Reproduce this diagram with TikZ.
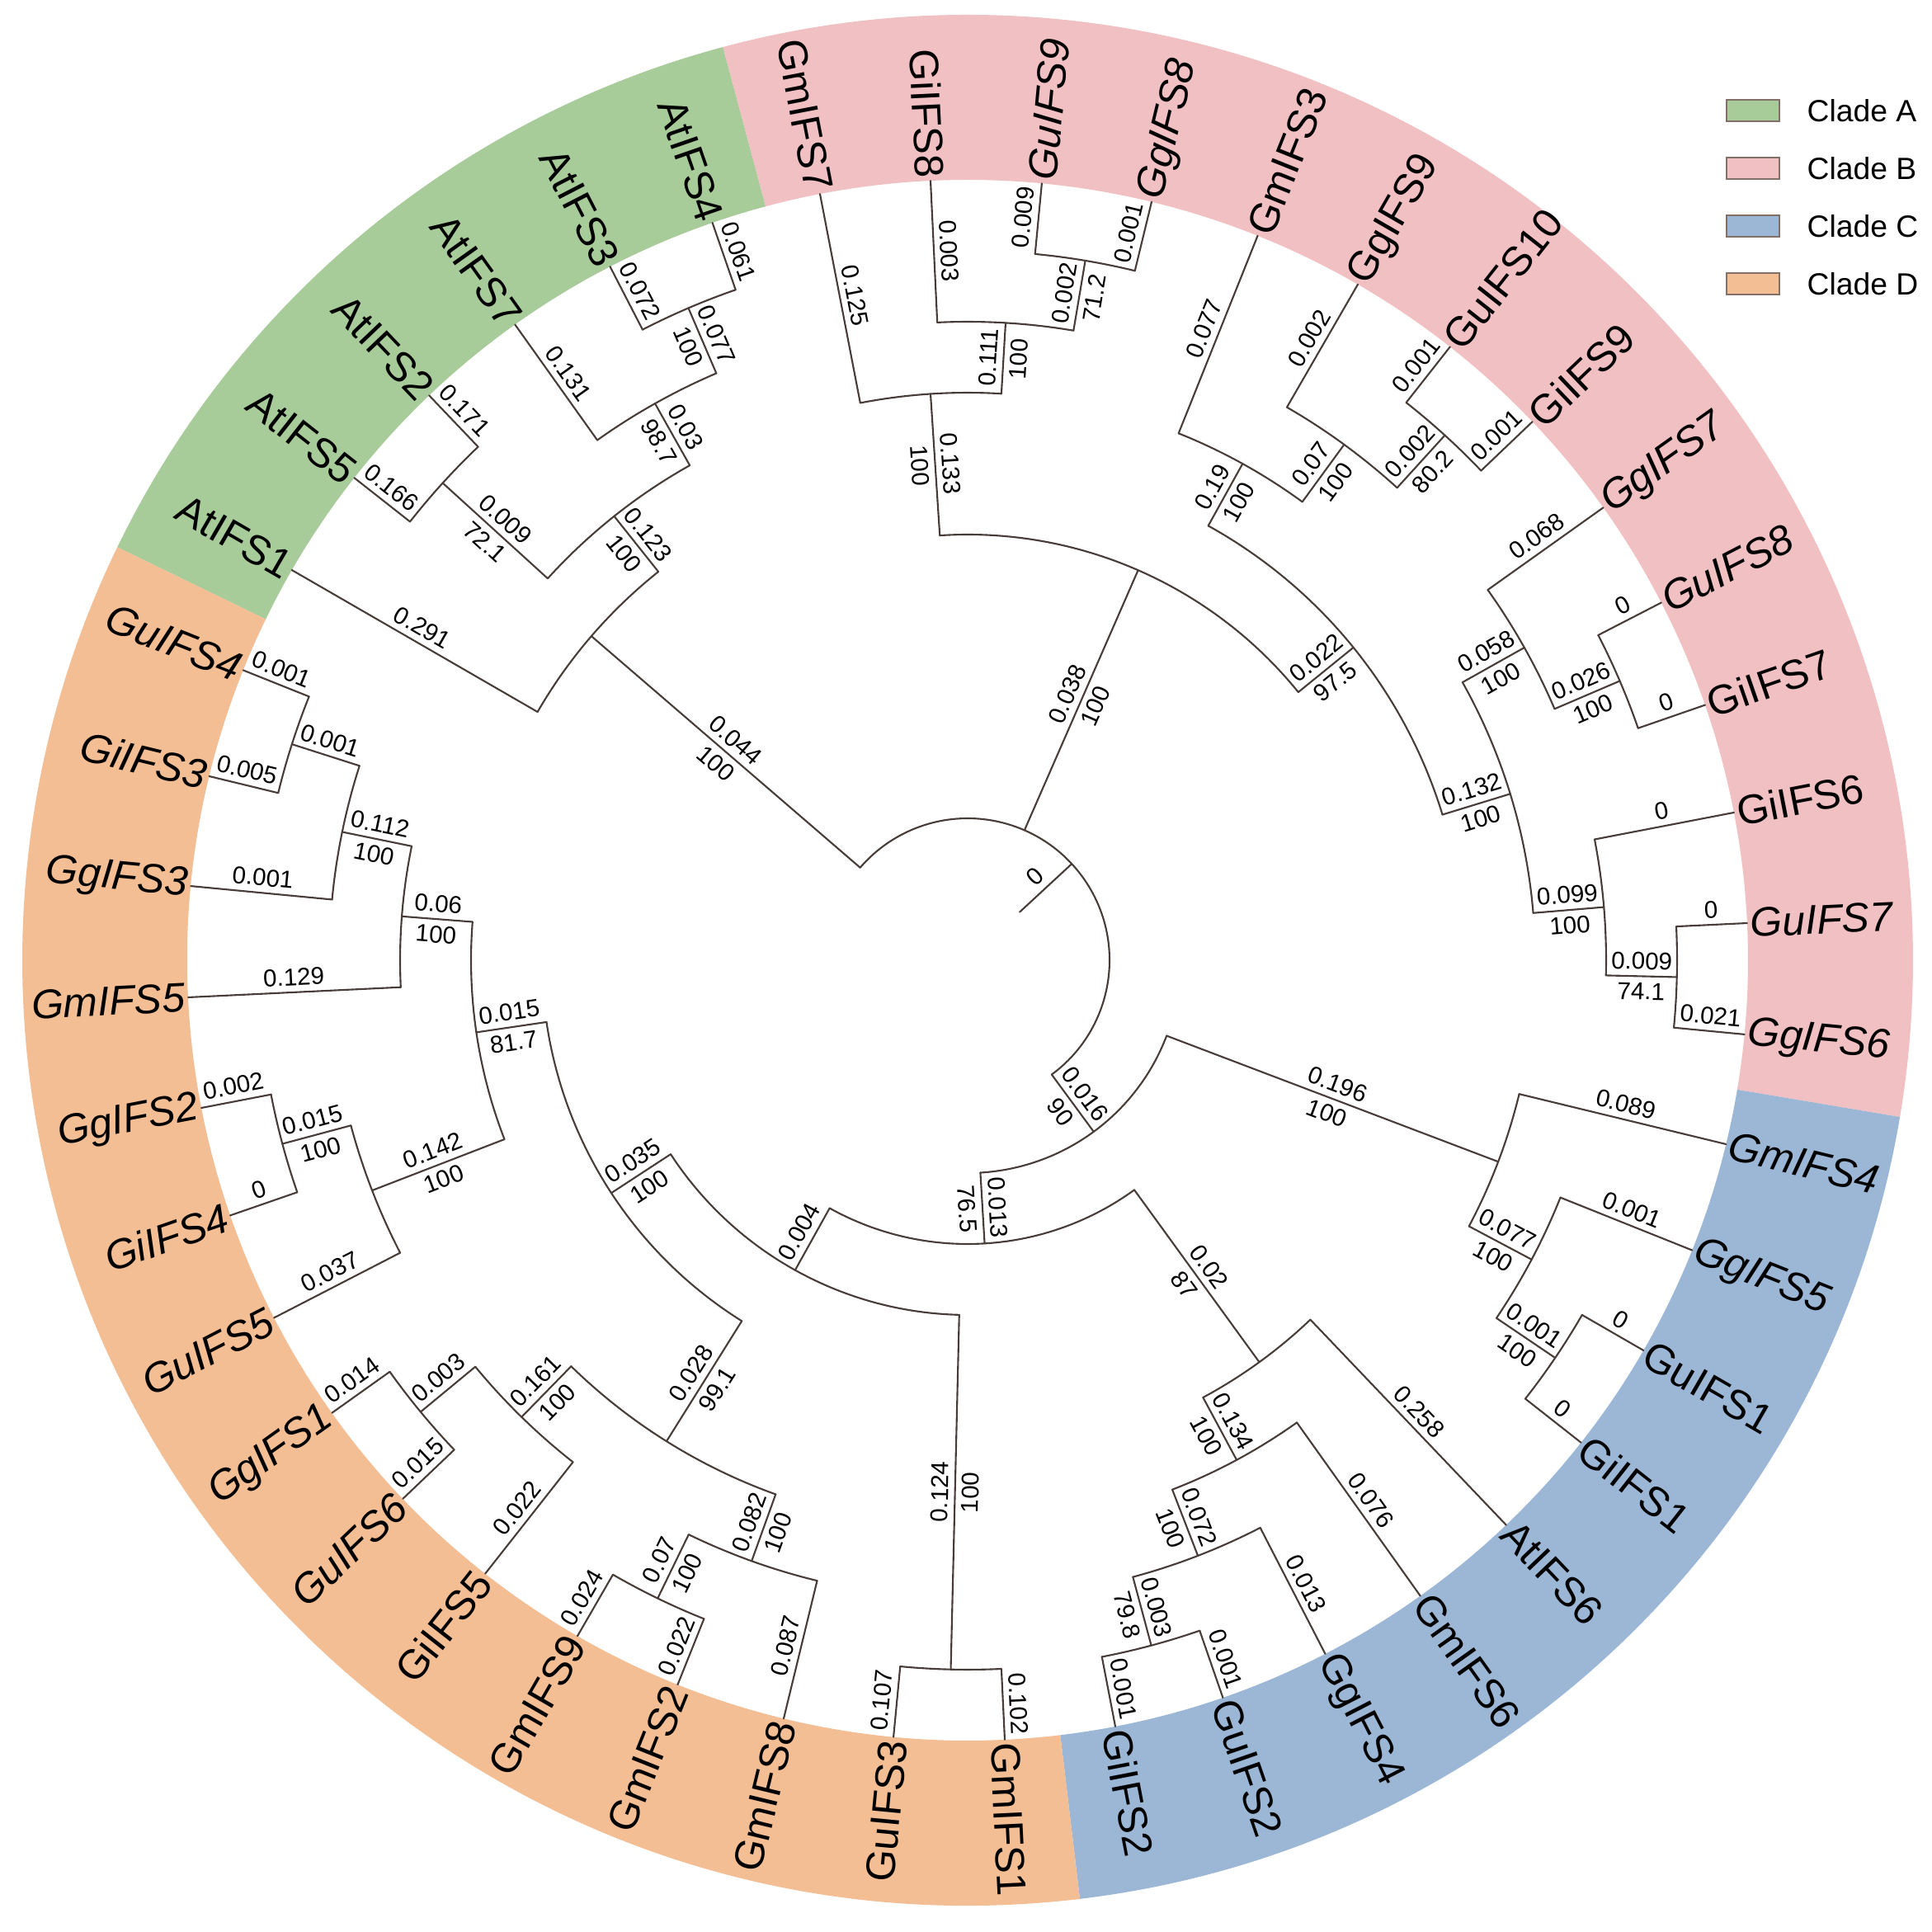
\documentclass[tikz,border=0pt]{standalone}
\usepackage{fontspec}
\setmainfont{Liberation Sans}
\definecolor{cladeA}{RGB}{168,203,154}
\definecolor{cladeB}{RGB}{241,192,194}
\definecolor{cladeC}{RGB}{156,183,214}
\definecolor{cladeD}{RGB}{243,190,148}
\definecolor{brc}{RGB}{72,60,56}
\definecolor{legedge}{RGB}{128,112,104}
\tikzset{
  branch/.style={draw=brc, line width=0.6pt, line cap=round},
  blen/.style={font=\fontsize{8.4}{10}\selectfont, inner sep=2pt, text=black},
  tiplab/.style={font=\fontsize{14.2}{16}\selectfont, inner sep=1pt, text=black},
  tipup/.style={},
  tipit/.style={font=\fontsize{14.2}{16}\selectfont\itshape},
  legbox/.style={draw=legedge, line width=0.5pt, minimum width=0.64cm, minimum height=0.26cm, inner sep=0pt},
  legtxt/.style={font=\fontsize{10.6}{12}\selectfont, inner sep=0pt, anchor=west, text=black},
}
% ring sector
\newcommand{\Sector}[3]{\fill[#1] (#2:9.46) arc[start angle=#2, end angle=#3, radius=9.46] -- (#3:11.46) arc[start angle=#3, end angle=#2, radius=11.46] -- cycle;}
% arc of an internal node: radius, start, end
\newcommand{\ArcN}[3]{\draw[branch] (#2:#1) arc[start angle=#2, end angle=#3, radius=#1];}
% internal branch: name, angle, parent r, node r, length, bootstrap
\newcommand{\InBr}[6]{%
  \coordinate (#1) at (#2:#4);
  \coordinate (#1p) at (#2:#3);
  \pgfmathsetmacro\myrot{cos(#2)>0 ? #2 : #2+180}%
  \draw[branch] (#1p) -- (#1)
    node[midway, blen, rotate=\myrot, anchor=south] {#5}
    node[midway, blen, rotate=\myrot, anchor=north] {#6};
}
% tip branch: name, angle, parent r, length, text, style
\newcommand{\TipBr}[6]{%
  \coordinate (#1) at (#2:9.46);
  \coordinate (#1p) at (#2:#3);
  \pgfmathsetmacro\myrot{cos(#2)>0 ? #2 : #2+180}%
  \pgfmathtruncatemacro\myside{cos(#2)>0 ? 1 : 0}%
  \draw[branch] (#1p) -- (#1)
    node[midway, blen, rotate=\myrot, anchor=south] {#4};
  \ifnum\myside=1
    \node[tiplab, #6, rotate=\myrot, anchor=west] (#1t) at (#1) {#5};
  \else
    \node[tiplab, #6, rotate=\myrot, anchor=east] (#1t) at (#1) {#5};
  \fi
}
\begin{document}
\begin{tikzpicture}
\useasboundingbox (-11.73,-11.78) rectangle (11.69,11.64);
\fill[white] (-11.73,-11.78) rectangle (11.69,11.64);
% clade ring
\Sector{cladeA}{105.0}{154.0909}
\Sector{cladeB}{-9.5455}{105.0}
\Sector{cladeC}{-83.1818}{-9.5455}
\Sector{cladeD}{-205.9091}{-83.1818}
% arcs
\ArcN{8.60}{109.0909}{117.2727}
\ArcN{7.74}{113.1818}{125.4545}
\ArcN{8.60}{133.6364}{141.8182}
\ArcN{6.88}{119.3182}{137.7273}
\ArcN{6.02}{128.5227}{150.0}
\ArcN{8.60}{76.3636}{84.5455}
\ArcN{7.74}{80.4545}{92.7273}
\ArcN{6.88}{86.5909}{100.9091}
\ArcN{8.60}{43.6364}{51.8182}
\ArcN{7.74}{47.7273}{60.0}
\ArcN{6.88}{53.8636}{68.1818}
\ArcN{8.60}{19.0909}{27.2727}
\ArcN{7.74}{23.1818}{35.4545}
\ArcN{8.60}{-5.4545}{2.7273}
\ArcN{7.74}{-1.3636}{10.9091}
\ArcN{6.88}{4.7727}{29.3182}
\ArcN{6.02}{17.0455}{61.0227}
\ArcN{5.16}{39.0341}{93.75}
\ArcN{8.60}{-38.1818}{-30.0}
\ArcN{7.74}{-34.0909}{-21.8182}
\ArcN{6.88}{-27.9545}{-13.6364}
\ArcN{8.60}{-79.0909}{-70.9091}
\ArcN{7.74}{-75.0}{-62.7273}
\ArcN{6.88}{-68.8636}{-54.5455}
\ArcN{6.02}{-61.7045}{-46.3636}
\ArcN{3.44}{-119.1051}{-54.0341}
\ArcN{2.58}{-86.5696}{-20.7955}
\ArcN{8.60}{-95.4545}{-87.2727}
\ArcN{8.60}{-120.0}{-111.8182}
\ArcN{7.74}{-115.9091}{-103.6364}
\ArcN{8.60}{-144.5455}{-136.3636}
\ArcN{7.74}{-140.4545}{-128.1818}
\ArcN{6.88}{-134.3182}{-109.7727}
\ArcN{8.60}{-169.0909}{-160.9091}
\ArcN{7.74}{-165.0}{-152.7273}
\ArcN{8.60}{-201.8182}{-193.6364}
\ArcN{7.74}{-197.7273}{-185.4545}
\ArcN{6.88}{-191.5909}{-177.2727}
\ArcN{6.02}{-184.4318}{-158.8636}
\ArcN{5.16}{-171.6477}{-122.0455}
\ArcN{4.30}{-146.8466}{-91.3636}
\ArcN{1.72}{-53.6826}{139.2614}
% internal branches
\InBr{root}{42.7894}{0.86}{1.72}{0}{}
\InBr{a1}{113.1818}{7.74}{8.60}{0.077}{100}
\InBr{a2}{119.3182}{6.88}{7.74}{0.03}{98.7}
\InBr{a3}{137.7273}{6.88}{8.60}{0.009}{72.1}
\InBr{a4}{128.5227}{6.02}{6.88}{0.123}{100}
\InBr{a5}{139.2614}{1.72}{6.02}{0.044}{100}
\InBr{b1}{80.4545}{7.74}{8.60}{0.002}{71.2}
\InBr{b2}{86.5909}{6.88}{7.74}{0.111}{100}
\InBr{b3}{93.75}{5.16}{6.88}{0.133}{100}
\InBr{b4}{47.7273}{7.74}{8.60}{0.002}{80.2}
\InBr{b5}{53.8636}{6.88}{7.74}{0.07}{100}
\InBr{b6}{61.0227}{6.02}{6.88}{0.19}{100}
\InBr{b7}{23.1818}{7.74}{8.60}{0.026}{100}
\InBr{b8}{29.3182}{6.88}{7.74}{0.058}{100}
\InBr{b9}{-1.3636}{7.74}{8.60}{0.009}{74.1}
\InBr{b10}{4.7727}{6.88}{7.74}{0.099}{100}
\InBr{b11}{17.0455}{6.02}{6.88}{0.132}{100}
\InBr{b12}{39.0341}{5.16}{6.02}{0.022}{97.5}
\InBr{b13}{66.392}{1.72}{5.16}{0.038}{100}
\InBr{c1}{-34.0909}{7.74}{8.60}{0.001}{100}
\InBr{c2}{-27.9545}{6.88}{7.74}{0.077}{100}
\InBr{c3}{-20.7955}{2.58}{6.88}{0.196}{100}
\InBr{c4}{-75.0}{7.74}{8.60}{0.003}{79.8}
\InBr{c5}{-68.8636}{6.88}{7.74}{0.072}{100}
\InBr{c6}{-61.7045}{6.02}{6.88}{0.134}{100}
\InBr{c7}{-54.0341}{3.44}{6.02}{0.02}{87}
\InBr{e1}{-86.5696}{2.58}{3.44}{0.013}{76.5}
\InBr{e2}{-53.6826}{1.72}{2.58}{0.016}{90}
\InBr{d1}{-91.3636}{4.30}{8.60}{0.124}{100}
\InBr{d2}{-115.9091}{7.74}{8.60}{0.07}{100}
\InBr{d3}{-109.7727}{6.88}{7.74}{0.082}{100}
\InBr{d4}{-140.4545}{7.74}{8.60}{0.003}{}
\InBr{d5}{-134.3182}{6.88}{7.74}{0.161}{100}
\InBr{d6}{-122.0455}{5.16}{6.88}{0.028}{99.1}
\InBr{d7}{-165.0}{7.74}{8.60}{0.015}{100}
\InBr{d8}{-158.8636}{6.02}{7.74}{0.142}{100}
\InBr{d9}{-197.7273}{7.74}{8.60}{0.001}{}
\InBr{d10}{-191.5909}{6.88}{7.74}{0.112}{100}
\InBr{d11}{-184.4318}{6.02}{6.88}{0.06}{100}
\InBr{d12}{-171.6477}{5.16}{6.02}{0.015}{81.7}
\InBr{d13}{-146.8466}{4.30}{5.16}{0.035}{100}
\InBr{d14}{-119.1051}{3.44}{4.30}{0.004}{}
% tips
\TipBr{t0}{150.0}{6.02}{0.291}{AtIFS1}{tipup}
\TipBr{t1}{141.8182}{8.60}{0.166}{AtIFS5}{tipup}
\TipBr{t2}{133.6364}{8.60}{0.171}{AtIFS2}{tipup}
\TipBr{t3}{125.4545}{7.74}{0.131}{AtIFS7}{tipup}
\TipBr{t4}{117.2727}{8.60}{0.072}{AtIFS3}{tipup}
\TipBr{t5}{109.0909}{8.60}{0.061}{AtIFS4}{tipup}
\TipBr{t6}{100.9091}{6.88}{0.125}{GmIFS7}{tipup}
\TipBr{t7}{92.7273}{7.74}{0.003}{GiIFS8}{tipup}
\TipBr{t8}{84.5455}{8.60}{0.009}{GuIFS9}{tipit}
\TipBr{t9}{76.3636}{8.60}{0.001}{GgIFS8}{tipit}
\TipBr{t10}{68.1818}{6.88}{0.077}{GmIFS3}{tipup}
\TipBr{t11}{60.0}{7.74}{0.002}{GgIFS9}{tipup}
\TipBr{t12}{51.8182}{8.60}{0.001}{GuIFS10}{tipup}
\TipBr{t13}{43.6364}{8.60}{0.001}{GiIFS9}{tipup}
\TipBr{t14}{35.4545}{7.74}{0.068}{GgIFS7}{tipit}
\TipBr{t15}{27.2727}{8.60}{0}{GuIFS8}{tipit}
\TipBr{t16}{19.0909}{8.60}{0}{GiIFS7}{tipup}
\TipBr{t17}{10.9091}{7.74}{0}{GiIFS6}{tipup}
\TipBr{t18}{2.7273}{8.60}{0}{GuIFS7}{tipit}
\TipBr{t19}{-5.4545}{8.60}{0.021}{GgIFS6}{tipit}
\TipBr{t20}{-13.6364}{6.88}{0.089}{GmIFS4}{tipit}
\TipBr{t21}{-21.8182}{7.74}{0.001}{GgIFS5}{tipit}
\TipBr{t22}{-30.0}{8.60}{0}{GuIFS1}{tipup}
\TipBr{t23}{-38.1818}{8.60}{0}{GiIFS1}{tipup}
\TipBr{t24}{-46.3636}{6.02}{0.258}{AtIFS6}{tipup}
\TipBr{t25}{-54.5455}{6.88}{0.076}{GmIFS6}{tipup}
\TipBr{t26}{-62.7273}{7.74}{0.013}{GgIFS4}{tipup}
\TipBr{t27}{-70.9091}{8.60}{0.001}{GuIFS2}{tipup}
\TipBr{t28}{-79.0909}{8.60}{0.001}{GiIFS2}{tipup}
\TipBr{t29}{-87.2727}{8.60}{0.102}{GmIFS1}{tipup}
\TipBr{t30}{-95.4545}{8.60}{0.107}{GuIFS3}{tipup}
\TipBr{t31}{-103.6364}{7.74}{0.087}{GmIFS8}{tipup}
\TipBr{t32}{-111.8182}{8.60}{0.022}{GmIFS2}{tipup}
\TipBr{t33}{-120.0}{8.60}{0.024}{GmIFS9}{tipup}
\TipBr{t34}{-128.1818}{7.74}{0.022}{GiIFS5}{tipup}
\TipBr{t35}{-136.3636}{8.60}{0.015}{GuIFS6}{tipit}
\TipBr{t36}{-144.5455}{8.60}{0.014}{GgIFS1}{tipit}
\TipBr{t37}{-152.7273}{7.74}{0.037}{GuIFS5}{tipit}
\TipBr{t38}{-160.9091}{8.60}{0}{GiIFS4}{tipit}
\TipBr{t39}{-169.0909}{8.60}{0.002}{GgIFS2}{tipit}
\TipBr{t40}{-177.2727}{6.88}{0.129}{GmIFS5}{tipit}
\TipBr{t41}{-185.4545}{7.74}{0.001}{GgIFS3}{tipit}
\TipBr{t42}{-193.6364}{8.60}{0.005}{GiIFS3}{tipit}
\TipBr{t43}{-201.8182}{8.60}{0.001}{GuIFS4}{tipit}
% legend
\node[legbox, fill=cladeA] (legA) at (9.52,10.30) {};
\node[legbox, fill=cladeB] (legB) at (9.52,9.60) {};
\node[legbox, fill=cladeC] (legC) at (9.52,8.90) {};
\node[legbox, fill=cladeD] (legD) at (9.52,8.20) {};
\node[legtxt] (legAt) at (10.17,10.30) {Clade A};
\node[legtxt] (legBt) at (10.17,9.60) {Clade B};
\node[legtxt] (legCt) at (10.17,8.90) {Clade C};
\node[legtxt] (legDt) at (10.17,8.20) {Clade D};
\end{tikzpicture}
\end{document}
